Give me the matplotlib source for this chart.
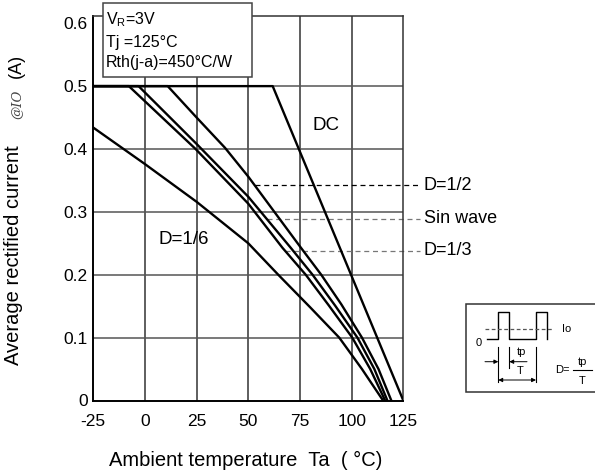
import numpy as np
import matplotlib
matplotlib.use("Agg")
import matplotlib.pyplot as plt
from matplotlib.patches import Rectangle

plt.rcParams['font.family'] = ['Liberation Sans', 'DejaVu Sans']
plt.rcParams['mathtext.fontset'] = 'custom'
plt.rcParams['mathtext.rm'] = 'Liberation Sans'

# ---- data ----
ta_dc = [-25, 61.8, 125]
io_dc = [0.5, 0.5, 0.0]

ta_d12 = [-25, 11.0, 25.0, 38.7, 50.0, 75.0, 85.3, 95.0, 105.0, 113.0, 119.2]
io_d12 = [0.5, 0.5, 0.450, 0.402, 0.356, 0.245, 0.2, 0.153, 0.1, 0.050, 0.0]

ta_sin = [-25, -3.1, 25.0, 50.0, 70.5, 81.1, 92.0, 102.8, 111.0, 117.3]
io_sin = [0.5, 0.5, 0.408, 0.324, 0.243, 0.2, 0.151, 0.1, 0.050, 0.0]

ta_d13 = [-25, -7.8, 24.5, 50.0, 66.5, 77.8, 89.0, 100.3, 109.0, 116.2]
io_d13 = [0.5, 0.5, 0.4, 0.313, 0.243, 0.2, 0.151, 0.1, 0.050, 0.0]

ta_d16 = [-25, 0, 25, 50.0, 64.5, 80.0, 94.0, 105.0, 115.2]
io_d16 = [0.434, 0.376, 0.316, 0.250, 0.2, 0.148, 0.1, 0.050, 0.0]

xticks = [-25, 0, 25, 50, 75, 100, 125]
yticks = [0, 0.1, 0.2, 0.3, 0.4, 0.5, 0.6]
ytick_labels = ["0", "0.1", "0.2", "0.3", "0.4", "0.5", "0.6"]

leader_labels = ["D=1/2", "Sin wave", "D=1/3"]
leader_levels = [0.342, 0.289, 0.238]

W, H = 595, 476
fig = plt.figure(figsize=(W / 100, H / 100), dpi=100)
ax = fig.add_axes([93.3 / W, 1 - 400.5 / H, (403.3 - 93.3) / W, (400.5 - 15.7) / H])
ax.set_xlim(-25, 125)
ax.set_ylim(0, 0.612)

for x in xticks[1:-1]:
    ax.axvline(x, color='#333333', lw=1.1, zorder=1)
for y in yticks[1:-1]:
    ax.axhline(y, color='#555555', lw=1.1, zorder=1)

for s in ['left', 'bottom']:
    ax.spines[s].set_linewidth(1.4)
    ax.spines[s].set_color('black')
for s in ['top', 'right']:
    ax.spines[s].set_linewidth(1.1)
    ax.spines[s].set_color('#333333')

lw = 1.7
for tx, iy in [(ta_dc, io_dc), (ta_d12, io_d12), (ta_sin, io_sin),
               (ta_d13, io_d13), (ta_d16, io_d16)]:
    ax.plot(tx, iy, color='black', lw=lw, zorder=3, solid_joinstyle='round')

ax.set_xticks(xticks)
ax.set_xticklabels([str(v) for v in xticks])
ax.set_yticks(yticks)
ax.set_yticklabels(ytick_labels)
ax.tick_params(axis='both', length=0, labelsize=12.5)
ax.tick_params(axis='x', pad=10)
ax.tick_params(axis='y', pad=4)

# leaders
curves = [(ta_d12, io_d12), (ta_sin, io_sin), (ta_d13, io_d13)]
colors = ['black', '#777777', '#777777']
for (tx, iy), lab, lev, c in zip(curves, leader_labels, leader_levels, colors):
    x0 = np.interp(lev, iy[::-1], tx[::-1])
    ax.plot([x0, 133.2], [lev, lev], color=c, lw=0.9, ls=(0, (4, 3)),
            clip_on=False, zorder=2)
    ax.text(135, lev, lab, fontsize=13, va='center', ha='left')

ax.text(87.4, 0.4375, "DC", fontsize=13.5, ha='center', va='center')
ax.text(18.6, 0.256, "D=1/6", fontsize=13.5, ha='center', va='center')

# axis labels
fig.text(245.5 / W, 1 - 460.5 / H, "Ambient temperature  Ta  ( °C)",
         fontsize=14.5, ha='center', va='center')
fig.text(14 / W, 1 - 255 / H, "Average rectified current", rotation=90,
         fontsize=14.5, ha='center', va='center')
fig.text(17 / W, 1 - 104 / H, "@IO", rotation=90, fontsize=9.5,
         ha='center', va='center', style='italic', family='DejaVu Serif',
         color='#444444')
fig.text(16 / W, 1 - 66 / H, "(A)", rotation=90, fontsize=13,
         ha='center', va='center')

# overlay in pixel coords for annotation boxes
ov = fig.add_axes([0, 0, 1, 1], zorder=5)
ov.set_xlim(0, W)
ov.set_ylim(H, 0)
ov.axis('off')
ov.patch.set_alpha(0)

ov.add_patch(Rectangle((102.7, 2.7), 252.3 - 102.7, 76.7 - 2.7,
                       facecolor='white', edgecolor='#444444', lw=1.1))
ov.text(106, 20, r"V$_\mathregular{R}$=3V", fontsize=11.5, va='center', ha='left')
ov.text(106, 42, "Tj =125°C", fontsize=11.5, va='center', ha='left')
ov.text(106, 63, "Rth(j-a)=450°C/W", fontsize=11.5, va='center', ha='left')

# inset pulse diagram
ov.add_patch(Rectangle((466, 304), 140, 88, facecolor='white',
                       edgecolor='#333333', lw=1.1, clip_on=False))
wx = [487, 498.3, 498.3, 509.3, 509.3, 536, 536, 547.3, 547.3]
wy = [339, 339, 311.7, 311.7, 339, 339, 311.7, 311.7, 339]
ov.plot(wx, wy, color='black', lw=1.0)
ov.plot([485, 553], [329.3, 329.3], color='#555555', lw=0.9, ls=(0, (3, 2)))
ov.text(562, 329.3, "Io", fontsize=8, va='center', ha='left')
ov.text(479, 343, "0", fontsize=8, va='center', ha='center')
ov.plot([498.3, 498.3], [347, 382], color='black', lw=0.8)
ov.plot([509.3, 509.3], [347, 368], color='black', lw=0.8)
ov.plot([536, 536], [347, 382], color='black', lw=0.8)
ov.annotate("", xy=(498.3, 361.7), xytext=(485, 361.7),
            arrowprops=dict(arrowstyle='-|>', lw=0.7, color='black',
                            mutation_scale=6, shrinkA=0, shrinkB=0))
ov.annotate("", xy=(509.3, 361.7), xytext=(527, 361.7),
            arrowprops=dict(arrowstyle='-|>', lw=0.7, color='black',
                            mutation_scale=6, shrinkA=0, shrinkB=0))
ov.text(521.7, 352, "tp", fontsize=8, va='center', ha='center')
ov.annotate("", xy=(498.3, 380), xytext=(536, 380),
            arrowprops=dict(arrowstyle='<|-|>', lw=0.7, color='black',
                            mutation_scale=6, shrinkA=0, shrinkB=0))
ov.text(520, 371.5, "T", fontsize=8, va='center', ha='center')
ov.text(555, 370, "D=", fontsize=8, va='center', ha='left')
ov.text(582, 362, "tp", fontsize=8, va='center', ha='center')
ov.plot([573, 592], [370, 370], color='black', lw=0.8)
ov.text(582, 381.5, "T", fontsize=8, va='center', ha='center')

fig.savefig("out.png", dpi=100)
